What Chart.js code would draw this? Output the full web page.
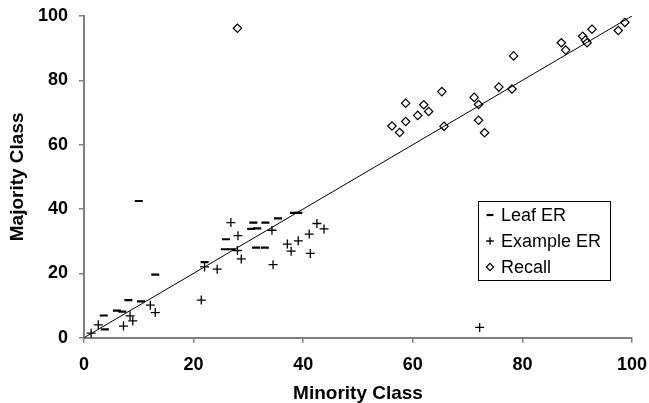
<!DOCTYPE html>
<html>
<head>
<meta charset="utf-8">
<script src="https://cdn.jsdelivr.net/npm/chart.js@4/dist/chart.umd.min.js"></script>
<style>
body { margin: 0; background: #fff; overflow: hidden; }
</style>
</head>
<body>
<canvas id="myChart" width="649" height="403"></canvas>
<script>
// values
var leafX = [3.8, 3.6, 6.0, 7.0, 8.1, 10.4, 13.0, 10.0, 22.0, 25.9, 25.7, 26.9, 30.9, 33.1, 30.5, 31.6, 31.4, 33.0, 35.4, 38.3, 39.1];
var leafY = [2.6, 6.9, 8.4, 8.1, 11.7, 11.3, 19.6, 42.5, 23.5, 30.6, 27.5, 27.5, 35.8, 35.8, 33.8, 34.0, 28.0, 28.0, 37.1, 38.8, 38.8];

var exampleX = [1.3, 2.6, 7.2, 8.4, 8.9, 12.1, 13.0, 21.4, 22.0, 24.3, 26.8, 28.1, 28.0, 28.7, 34.3, 34.5, 37.1, 37.8, 39.1, 41.1, 41.3, 42.5, 43.8, 72.2];
var exampleY = [1.4, 4.0, 3.6, 6.8, 5.2, 10.1, 7.8, 11.7, 22.0, 21.3, 35.8, 31.7, 27.1, 24.5, 33.4, 22.7, 29.1, 26.9, 30.1, 32.2, 26.2, 35.5, 33.8, 3.2];

var recallX = [28.0, 56.2, 57.6, 58.7, 58.7, 60.9, 62.0, 62.9, 65.3, 65.7, 71.2, 72.0, 72.0, 73.1, 75.7, 78.1, 78.4, 87.1, 87.9, 91.0, 91.5, 91.8, 92.7, 97.5, 98.7];
var recallY = [96.2, 65.8, 63.8, 72.9, 67.2, 69.1, 72.4, 70.3, 76.5, 65.7, 74.7, 72.5, 67.6, 63.7, 77.9, 77.3, 87.6, 91.7, 89.4, 93.7, 92.5, 91.7, 95.9, 95.5, 98.0];

var lineX = [0, 100];
var lineY = [0, 100];

var xTicks = [0, 20, 40, 60, 80, 100];
var yTicks = [0, 20, 40, 60, 80, 100];

function toPoints(xs, ys) {
    var pts = [];
    for (var i = 0; i < xs.length; i++) {
        pts.push({x: xs[i], y: ys[i]});
    }
    return pts;
}

// legend drawn as a box inside the plot, like the original
var boxLegend = {
    id: 'boxLegend',
    afterDraw: function(chart) {
        var ctx = chart.ctx;
        var left = 478, top = 201, w = 132, h = 79;
        ctx.save();
        ctx.fillStyle = '#fff';
        ctx.fillRect(left, top, w, h);
        ctx.strokeStyle = '#000';
        ctx.lineWidth = 1;
        ctx.strokeRect(left + 0.5, top + 0.5, w, h);
        ctx.font = '18px "Liberation Sans", Arial, sans-serif';
        ctx.textBaseline = 'middle';
        var row = 0;
        chart.data.datasets.forEach(function(ds) {
            if (!ds.label) return;
            var y = top + 14 + row * 26;
            ctx.fillStyle = ds.backgroundColor;
            ctx.strokeStyle = ds.borderColor;
            ctx.lineWidth = ds.borderWidth;
            Chart.helpers.drawPoint(ctx, {
                pointStyle: ds.pointStyle,
                radius: ds.pointRadius * 0.85,
                borderWidth: ds.borderWidth,
                rotation: 0
            }, left + 12, y);
            ctx.fillStyle = '#000';
            ctx.fillText(ds.label, left + 23, y + 1);
            row++;
        });
        ctx.restore();
    }
};

var tickFont = {family: '"Liberation Sans", Arial, sans-serif', size: 18, weight: 'bold'};
var titleFont = {family: '"Liberation Sans", Arial, sans-serif', size: 19, weight: 'bold', lineHeight: 1};

new Chart("myChart", {
    type: "scatter",
    data: {
        datasets: [{
            type: 'line',
            data: toPoints(lineX, lineY),
            borderColor: '#000',
            borderWidth: 1,
            pointRadius: 0,
            fill: false
        }, {
            label: 'Leaf ER',
            data: toPoints(leafX, leafY),
            pointStyle: 'line',
            pointRadius: 4,
            borderWidth: 2.2,
            borderColor: '#000',
            backgroundColor: '#000'
        }, {
            label: 'Example ER',
            data: toPoints(exampleX, exampleY),
            pointStyle: 'cross',
            pointRadius: 4.5,
            borderWidth: 1.3,
            borderColor: '#000',
            backgroundColor: '#000'
        }, {
            label: 'Recall',
            data: toPoints(recallX, recallY),
            pointStyle: 'rectRot',
            pointRadius: 4.2,
            borderWidth: 1.2,
            borderColor: '#000',
            backgroundColor: '#fff'
        }]
    },
    options: {
        responsive: false,
        animation: false,
        events: [],
        devicePixelRatio: 1,
        layout: {padding: {top: 16, right: 17, left: 0, bottom: 0}},
        plugins: {
            legend: {display: false},
            tooltip: {enabled: false}
        },
        scales: {
            x: {
                type: 'linear',
                min: 0,
                max: 100,
                afterBuildTicks: function(s) { s.ticks = xTicks.map(function(v) { return {value: v}; }); },
                afterFit: function(s) { s.height = 65.3; s.paddingLeft = 0; s.paddingRight = 0; },
                grid: {display: true, drawOnChartArea: false, drawTicks: true, tickLength: 5, color: '#808080', lineWidth: 1.5},
                border: {display: true, color: '#808080', width: 2},
                ticks: {color: '#000', font: tickFont, padding: 12, maxRotation: 0},
                title: {display: true, text: 'Minority Class', color: '#000', font: titleFont, padding: {top: 0, bottom: 0}}
            },
            y: {
                type: 'linear',
                min: 0,
                max: 100,
                afterBuildTicks: function(s) { s.ticks = yTicks.map(function(v) { return {value: v}; }); },
                afterFit: function(s) { s.width = 84; s.paddingTop = 0; s.paddingBottom = 0; },
                grid: {display: true, drawOnChartArea: false, drawTicks: true, tickLength: 5, color: '#808080', lineWidth: 1.5},
                border: {display: true, color: '#808080', width: 2},
                ticks: {color: '#000', font: tickFont, padding: 11},
                title: {display: true, text: 'Majority Class', color: '#000', font: titleFont, padding: {top: 8, bottom: 0}}
            }
        }
    },
    plugins: [boxLegend]
});
</script>
</body>
</html>
